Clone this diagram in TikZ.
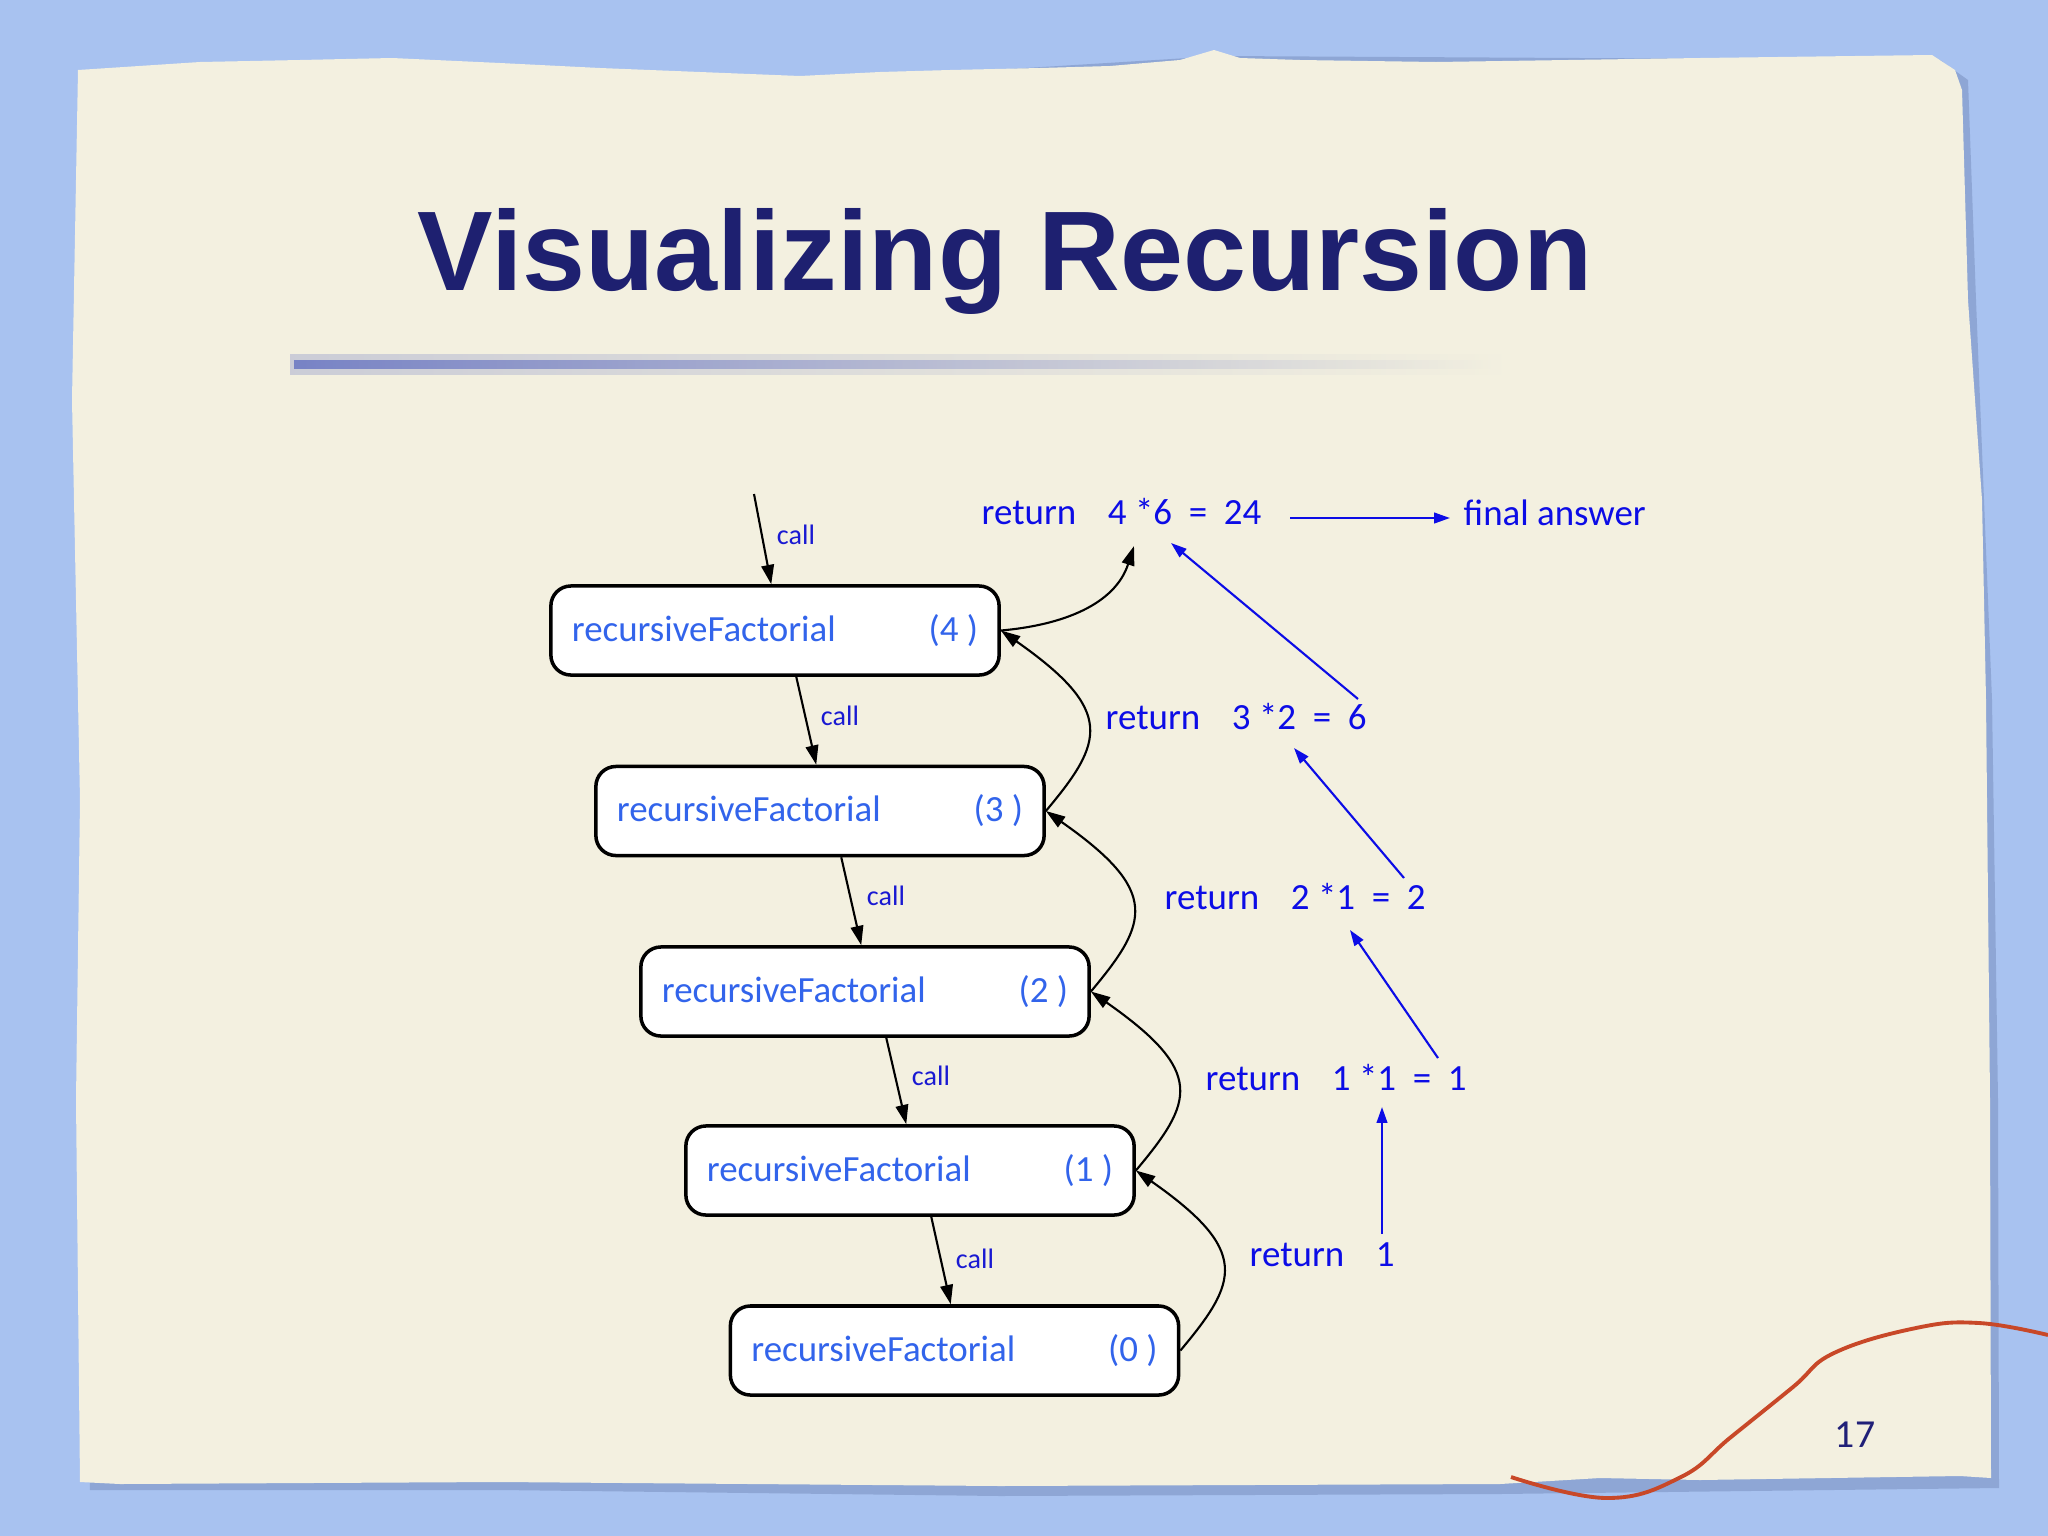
\documentclass[tikz,border=0pt]{standalone}
\usepackage{fontspec}
\setmainfont{Carlito}
\newfontfamily\titlefont{Liberation Sans}
\usetikzlibrary{arrows.meta}
\definecolor{bgblue}{RGB}{168,194,240}
\definecolor{paper}{RGB}{243,240,224}
\definecolor{shadowc}{RGB}{95,115,165}
\definecolor{titlec}{RGB}{30,32,112}
\definecolor{boxtext}{RGB}{50,100,235}
\definecolor{retblue}{RGB}{12,12,230}
\definecolor{callblue}{RGB}{25,25,210}
\definecolor{barc}{RGB}{85,100,190}
\definecolor{threadc}{RGB}{200,72,40}
\definecolor{numc}{RGB}{32,32,120}
\begin{document}
\begin{tikzpicture}[x=0.01cm,y=0.01cm,
  fbox/.style={draw=black, line width=1pt, rounded corners=0.2cm, fill=white,
    minimum width=4.48cm, minimum height=0.89cm, inner sep=0pt, text=boxtext,
    font=\fontsize{10.5pt}{12pt}\selectfont},
  callarrow/.style={draw=black, line width=0.6pt, -{Triangle[length=5.5pt,width=3.6pt]}},
  retarc/.style={draw=black, line width=0.6pt, -{Triangle[length=5.5pt,width=3.6pt]}},
  uparc/.style={retarc, out=50, in=-35, out distance=0.9cm, in distance=1.4cm},
  bluearrow/.style={draw=retblue, line width=0.6pt, -{Triangle[length=4.5pt,width=3pt]}},
  ret/.style={text=retblue, font=\fontsize{10.5pt}{12pt}\selectfont, inner sep=0pt, anchor=base west},
  calllbl/.style={text=callblue, font=\fontsize{8pt}{10pt}\selectfont, inner sep=0pt}]
\useasboundingbox (0,0) rectangle (2048,-1536);
% background
\fill[bgblue] (0,0) rectangle (2048,-1536);
\fill[shadowc, opacity=0.35] (84,-76) -- (400,-66) -- (800,-82) -- (1220,-56) -- (1940,-60) -- (1968,-80)
  -- (1976,-300) -- (1992,-700) -- (1998,-1100) -- (1999,-1488) -- (1500,-1494) -- (1000,-1496)
  -- (500,-1490) -- (90,-1490) -- cycle;
\fill[paper] (78,-70) -- (200,-62) -- (300,-60) -- (392,-58) -- (500,-63) -- (600,-68) -- (700,-72)
  -- (800,-76) -- (880,-72) -- (950,-70) -- (1040,-68) -- (1110,-66) -- (1180,-60) -- (1214,-50)
  -- (1240,-58) -- (1300,-60) -- (1436,-62) -- (1700,-58) -- (1932,-55) -- (1955,-70) -- (1962,-90)
  -- (1968,-300) -- (1982,-500) -- (1986,-700) -- (1990,-1100) -- (1991,-1478) -- (1960,-1476)
  -- (1700,-1480) -- (1600,-1478) -- (1500,-1484) -- (1000,-1486) -- (500,-1482) -- (120,-1484)
  -- (80,-1482) -- (76,-1100) -- (80,-800) -- (72,-400) -- cycle;
% title underline (soft bar)
\shade[left color=barc, right color=paper, opacity=0.25] (290,-354) rectangle (1505,-374);
\shade[left color=barc, right color=paper, opacity=0.7] (294,-360) rectangle (1502,-368);
% title
\node[font=\titlefont\bfseries\fontsize{32.2pt}{36pt}\selectfont, text=titlec, anchor=base, inner sep=0pt]
  (title) at (1005,-290) {Visualizing Recursion};
% boxes
\node[fbox] (b4) at (775,-630.5) {\makebox[4.06cm]{recursiveFactorial\hfill(4 )}};
\node[fbox] (b3) at (820,-811) {\makebox[4.06cm]{recursiveFactorial\hfill(3 )}};
\node[fbox] (b2) at (865,-991.5) {\makebox[4.06cm]{recursiveFactorial\hfill(2 )}};
\node[fbox] (b1) at (910,-1170.5) {\makebox[4.06cm]{recursiveFactorial\hfill(1 )}};
\node[fbox] (b0) at (954.5,-1350.5) {\makebox[4.06cm]{recursiveFactorial\hfill(0 )}};
% call arrows
\coordinate (start) at (754,-494);
\draw[callarrow] (start) -- ([xshift=2.22cm]b4.north west);
\draw[callarrow] ([xshift=2.47cm]b4.south west) -- ([xshift=2.22cm]b3.north west);
\draw[callarrow] ([xshift=2.47cm]b3.south west) -- ([xshift=2.22cm]b2.north west);
\draw[callarrow] ([xshift=2.47cm]b2.south west) -- ([xshift=2.22cm]b1.north west);
\draw[callarrow] ([xshift=2.47cm]b1.south west) -- ([xshift=2.22cm]b0.north west);
\node[calllbl] (c5) at (796,-535) {call};
\node[calllbl] (c4) at (840,-716) {call};
\node[calllbl] (c3) at (886,-896) {call};
\node[calllbl] (c2) at (931,-1076) {call};
\node[calllbl] (c1) at (975,-1259) {call};
% return arcs
\coordinate (top) at (1134,-546);
\draw[retarc] (b4.east) to[out=5,in=-108] (top);
\draw[uparc] (b3.east) to (b4.east);
\draw[uparc] (b2.east) to (b3.east);
\draw[uparc] (b1.east) to (b2.east);
\draw[uparc] (b0.east) to (b1.east);
% return texts
\node[ret] (r4) at (981,-524) {return\hspace{9pt}4 *6\ \ =\ \ 24};
\node[ret] (r3) at (1105,-729) {return\hspace{9pt}3 *2\ \ =\ \ 6};
\node[ret] (r2) at (1164,-909) {return\hspace{9pt}2 *1\ \ =\ \ 2};
\node[ret] (r1) at (1205,-1090) {return\hspace{9pt}1 *1\ \ =\ \ 1};
\node[ret] (r0) at (1249,-1266) {return\hspace{9pt}1};
\node[ret] (fin) at (1463,-525) {final answer};
% blue arrows
\coordinate (fa1) at (1290,-518);
\coordinate (fa2) at (1450,-518);
\coordinate (a1s) at (1358,-699);  \coordinate (a1e) at (1171,-543);
\coordinate (a2s) at (1404,-878);  \coordinate (a2e) at (1294,-748);
\coordinate (a3s) at (1438,-1058); \coordinate (a3e) at (1350,-930);
\coordinate (a4s) at (1382,-1234); \coordinate (a4e) at (1382,-1107);
\draw[bluearrow] (fa1) -- (fa2);
\draw[bluearrow] (a1s) -- (a1e);
\draw[bluearrow] (a2s) -- (a2e);
\draw[bluearrow] (a3s) -- (a3e);
\draw[bluearrow] (a4s) -- (a4e);
% thread
\draw[threadc, line width=1.1pt] plot[smooth, tension=0.7] coordinates {(1511,-1477) (1607,-1498) (1681,-1477) (1731,-1437) (1793,-1387) (1834,-1353) (1916,-1328) (1979,-1323) (2048,-1335)};
% page number
\node[text=numc, font=\fontsize{11.3pt}{13pt}\selectfont, inner sep=0pt] (pn) at (1855,-1435) {17};
\end{tikzpicture}
\end{document}
